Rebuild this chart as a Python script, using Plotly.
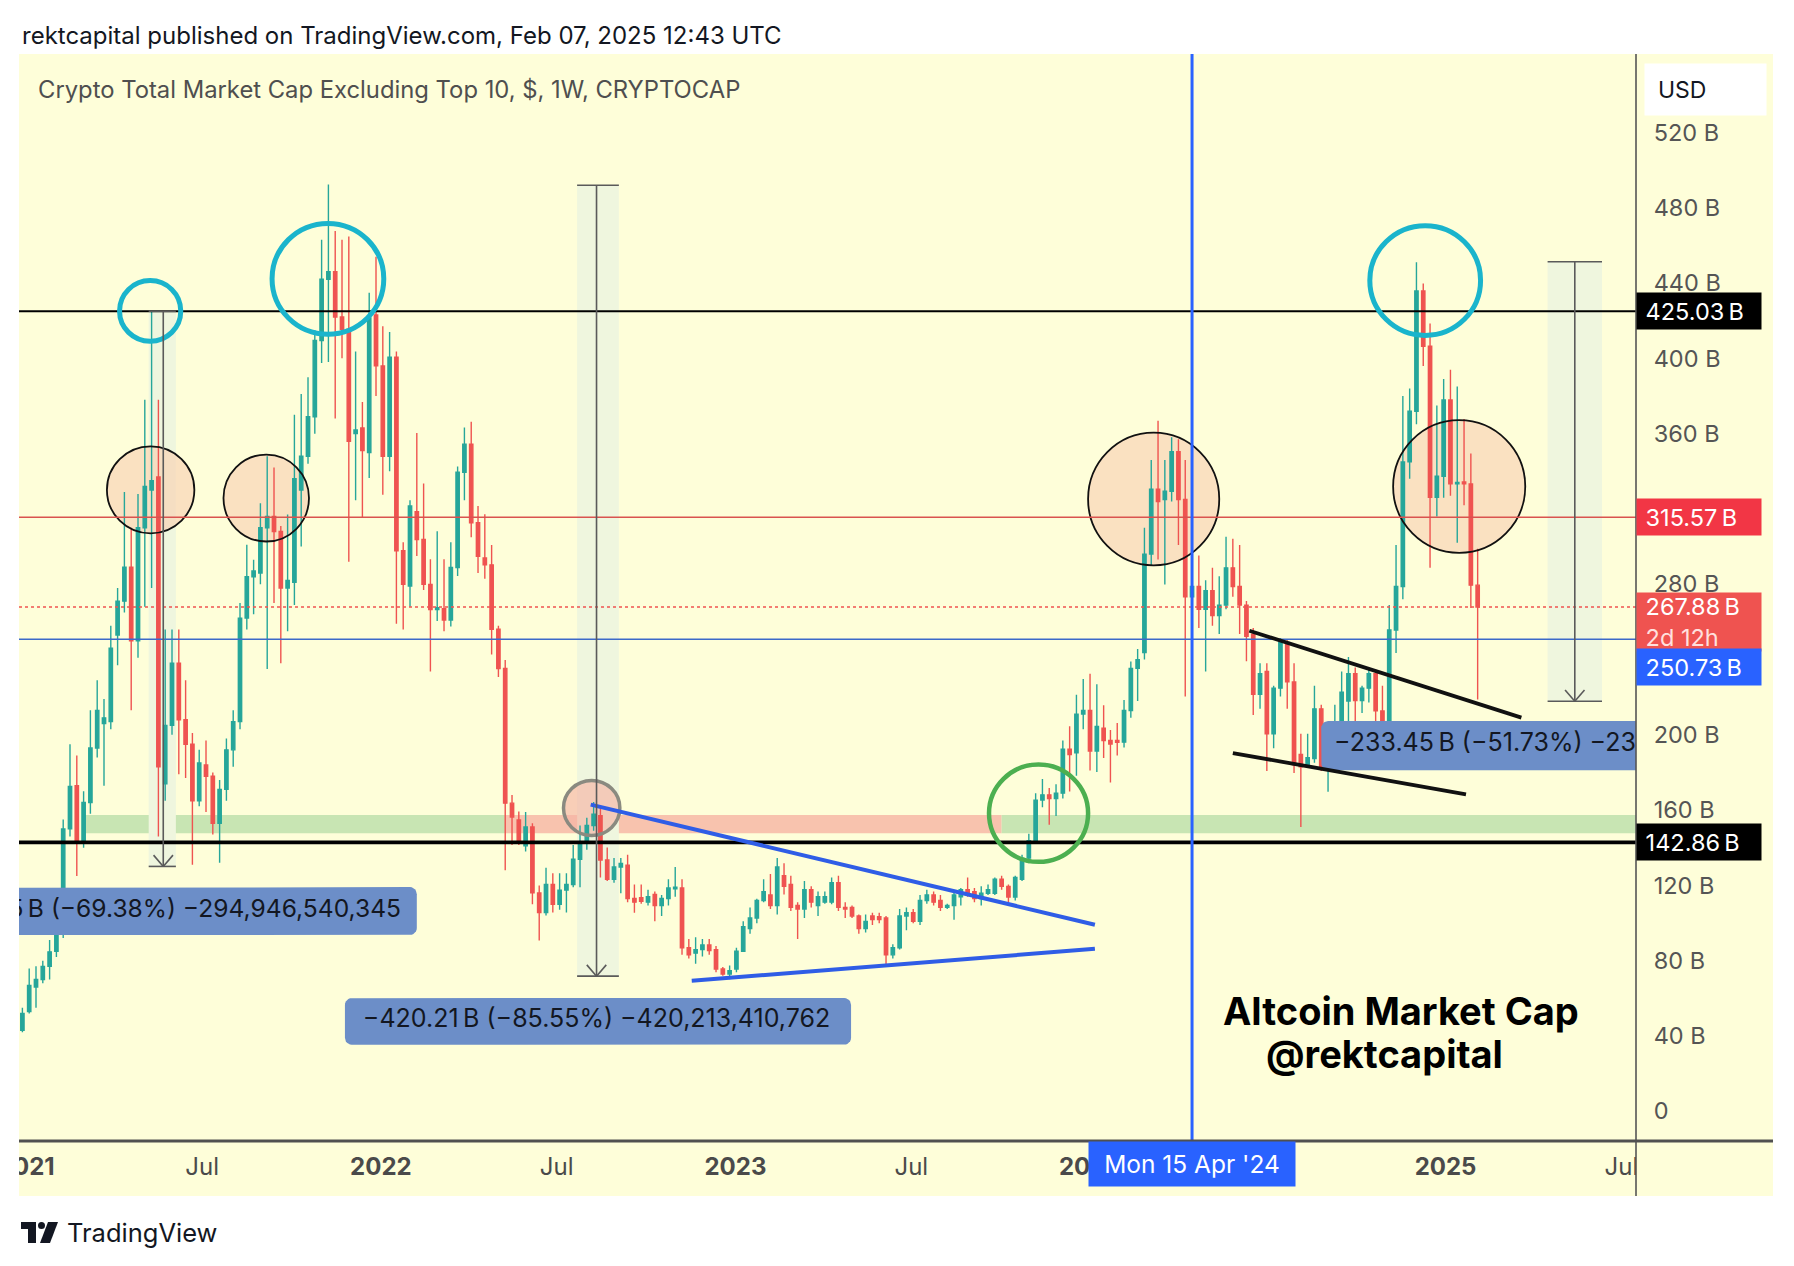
import math
import plotly.graph_objects as go
import pandas as pd

# ---------------- DATA (weekly candles, values in billions USD) ----------------
week_start = pd.date_range("2020-12-28", periods=215, freq="7D")

open_b = [43, 53, 66, 70, 77, 85, 100, 150, 173, 144, 164, 193, 206, 207, 253, 271, 289, 250, 310, 330,
          337, 174, 205, 238, 208, 195, 165, 184, 178, 153, 171, 192, 207, 262, 284, 286, 310, 316, 308, 278,
          281, 330, 348, 369, 409.5, 442, 446, 422, 415.5, 360, 363, 350, 423, 396, 348, 400.6, 297.8, 279, 318.6, 303.8,
          279.9, 266.5, 267, 261, 288.9, 339.5, 354.4, 312.7, 293.9, 290.3, 256.1, 235.2, 163.7, 154.8, 141, 151, 116, 105.6, 120.5, 110,
          117.5, 120.5, 133.9, 142.8, 151.8, 157, 133.5, 123.3, 129.8, 130.7, 113, 113.4, 111.1, 115.2, 109.3, 113, 118.2, 118.6, 86.9, 84,
          85.9, 88.3, 85.9, 75.6, 72.9, 75.6, 85, 97.1, 102.7, 112, 114.9, 109.3, 125.1, 120.5, 109.3, 107.4, 117.7, 109.3, 111.1, 111.1,
          121.4, 108.3, 108.3, 103.7, 97.1, 103.7, 103.3, 102.7, 83.1, 86.9, 103.7, 105.5, 100.9, 112, 114.9, 112, 108.3, 109.3, 114, 117.7,
          116.7, 113, 115.8, 115.8, 123.3, 119.5, 113.8, 123.3, 134.5, 143.8, 165.3, 168.1, 166.2, 169, 192.4, 190.5, 211, 212.9, 191.4, 203.5,
          197, 197, 196.1, 212.9, 235.3, 243.7, 296, 330.5, 325, 329.4, 350.4, 325, 273.3, 278.8, 266.7, 276.6, 263.4, 268.9, 288.7, 278.8,
          268.9, 253.5, 221.5, 233.6, 200.6, 224.8, 249.1, 228.1, 189.6, 184.1, 187.4, 213.8, 181.9, 191.8, 203.9, 218, 232.5, 218.2, 224.8, 232.5,
          212.7, 201.7, 255.7, 278.8, 345, 371.9, 435.8, 406.4, 326.2, 337.4, 377.9, 333.3, 334.3, 333.3, 279.5]

high_b = [55, 75.8, 77, 80, 91, 117.5, 155, 195, 189, 170, 213, 229, 219, 258, 278, 329, 310, 328, 378, 425,
          378, 256, 256, 256, 229, 201, 192, 197, 180, 176, 198, 213, 270, 301, 293, 323, 348, 342, 311, 317,
          370, 381, 390, 415, 463, 492.4, 467.6, 463, 464.7, 403.6, 376.8, 434.9, 454, 417, 414, 403.6, 302.3, 324.6, 360.4, 333.5,
          293.3, 308.2, 293.3, 302.3, 342.5, 363.3, 366.3, 321.6, 317.2, 300.8, 258, 239.7, 168, 159.2, 159, 153, 120, 129.4, 126.5, 126.5,
          126.5, 141.4, 151.8, 156, 164.3, 161.5, 140.1, 134.5, 134.5, 136.3, 120.5, 120.5, 117.7, 116.7, 114.9, 123.3, 129.8, 123.3, 91.5, 92.5,
          91.5, 91.5, 87.8, 76.6, 77.5, 86.9, 100.9, 108.3, 112.9, 123.3, 126.1, 134.5, 131.7, 125.1, 111.1, 122.3, 119.5, 116.7, 116.7, 124.2,
          125.1, 111.1, 109.3, 104.6, 104.6, 105.5, 105.5, 103.7, 88.7, 107.4, 108.3, 107.4, 114.9, 117.7, 116.7, 114.9, 110.2, 116.7, 118.6, 124.2,
          118.6, 119.5, 120.5, 124.2, 125.1, 120.5, 125.1, 136.3, 147.5, 169, 176.5, 171.8, 173.7, 197, 204.5, 221.3, 229.7, 232.5, 226.9, 215.7,
          202.6, 206.3, 218.5, 239, 245.6, 310, 346, 366.9, 346, 358.1, 357, 346, 289.8, 295.3, 282.1, 288.7, 284.3, 305.2, 304.1, 300.8,
          271.1, 256.8, 238, 238, 226, 251.3, 250.2, 238, 200.6, 200.6, 226, 216, 193.9, 216, 233.6, 241.3, 235.8, 226, 235.8, 234.7,
          226, 268.9, 300.8, 380, 384, 451, 439.8, 418.5, 374.9, 389, 394, 385, 367.8, 349.5, 298.8]

low_b = [42, 52, 55, 68, 70, 82, 92, 146, 125, 140, 158, 188, 173, 203, 237, 265, 213, 241, 268, 278,
         146, 165, 200, 179, 177, 131, 162, 159, 147, 132, 165, 183, 203, 256, 264, 280, 235, 270, 238, 255,
         269, 300, 344, 360, 397.6, 398, 368, 400, 292, 324.6, 315.7, 336.5, 380, 327.6, 340, 259, 256, 268, 295, 276.9,
         233.7, 260.5, 255, 257.6, 284.4, 324.6, 305, 285.9, 282.9, 242.7, 230.7, 128, 141.4, 141.4, 138, 110, 90.7, 104, 105.6, 107,
         105.6, 119, 119, 139, 149, 124.2, 122.3, 121.4, 115.8, 111.1, 105.5, 110.2, 109.3, 100.9, 103.7, 109.3, 114, 83.1, 81.2, 78.4,
         82.2, 83.1, 73.8, 72, 70.1, 73.8, 85, 94.3, 99.9, 111.1, 107.4, 104.6, 115.2, 106.4, 91.5, 102.7, 108.3, 103.7, 110.2, 110,
         106.4, 102.7, 102.7, 94.3, 95, 99, 99.9, 76.6, 81.2, 86, 96.2, 99.9, 99, 110.2, 109.3, 106.4, 107.4, 101.8, 109.3, 114,
         111.1, 109.3, 114.9, 114.9, 117.7, 111.1, 112, 122.3, 131.7, 143, 161.5, 152.2, 156.9, 166.2, 169.9, 178.3, 203, 181.1, 180.2, 187.7,
         174.6, 189, 193.3, 209.1, 218, 240, 290, 293.1, 279.9, 323.9, 300.8, 220.4, 241.3, 256.8, 233.6, 257.9, 253.5, 266.7, 273.3, 253.5,
         239.1, 210.5, 213.8, 180.8, 192.9, 220.4, 213.8, 179.7, 151, 183, 185.2, 180.8, 169.8, 189.6, 200.6, 203.9, 200.6, 211.6, 217.1, 199.5,
         198.4, 200.6, 243.5, 272, 336, 365, 396, 288.7, 316, 326, 327, 302, 322, 267.4, 218.7]

close_b = [52, 66.9, 70, 77, 84.7, 101, 150, 172.6, 144, 164, 193, 213, 209, 246, 271, 289, 250, 310, 332, 335,
           183, 205, 238, 208, 195, 165, 185, 178, 153, 171, 192, 207, 262, 284, 287, 310, 316, 308, 278, 282,
           336, 348, 369, 409.5, 442, 446, 422, 415.5, 356, 362, 351, 421.5, 396, 348, 400.6, 297.8, 279.9, 321.6, 303.8, 279.9,
           266.5, 267.5, 261, 288.9, 339.5, 354.4, 312.7, 294.8, 290.3, 256.1, 235.2, 163.7, 156.3, 142.8, 151, 116, 105.6, 120.5, 110, 117.5,
           120.5, 133.9, 142.8, 151.8, 157.8, 133.5, 123.3, 129.8, 131.7, 113, 111.1, 111.5, 114, 109.3, 113, 118.6, 119, 86.9, 83.1, 85.9,
           88.3, 85.4, 75.6, 72.9, 74.7, 85, 98.1, 102.7, 112, 116.7, 109.3, 129.8, 119.5, 108.3, 107.4, 117.7, 111.1, 114, 114, 121.4,
           108.3, 107.4, 103.7, 97.1, 100.9, 101.8, 101.8, 83.1, 86.9, 103.7, 105.5, 100.9, 112, 114.9, 111.1, 108.3, 109.3, 114.9, 117.7, 114.9,
           113, 115.8, 117.7, 123.3, 119.5, 113.8, 124.2, 134.5, 143.8, 165.3, 168.1, 166.2, 169, 192.4, 189.5, 211, 212.9, 191.4, 204.5, 197,
           195.1, 196, 212.9, 235.3, 239.9, 296, 330.5, 323.9, 329.4, 350.4, 325, 273.3, 278.8, 266.7, 276.6, 263.4, 268.9, 288.7, 278.8, 268.9,
           252.4, 221.5, 232.5, 200.6, 224.8, 249.1, 228.1, 184.1, 183, 187.8, 213.8, 181.9, 191.8, 203.9, 222.6, 232.5, 218.2, 224.8, 232.5, 212.7,
           201.7, 255.7, 278.8, 345, 371.9, 435.8, 406.4, 326.2, 337.4, 377.9, 333.3, 334.1, 333.3, 279.5, 267.88]

# horizontal price levels (B)
level_top = 425.03
level_mid = 315.57
level_last = 267.88
level_blue = 250.73
level_support = 142.86

# y-axis ticks
ytick_vals = [0, 40, 80, 120, 160, 200, 280, 360, 400, 440, 480, 520]
ytick_text = ["0", "40 B", "80 B", "120 B", "160 B", "200 B", "280 B", "360 B", "400 B", "440 B", "480 B", "520 B"]

# x-axis ticks
xtick_dates = ["2021-01-01", "2021-07-01", "2022-01-01", "2022-07-01", "2023-01-01",
               "2023-07-01", "2024-01-01", "2025-01-01", "2025-07-01"]
xtick_text = ["<b>2021</b>", "Jul", "<b>2022</b>", "Jul", "<b>2023</b>", "Jul", "<b>2024</b>", "<b>2025</b>", "Jul"]

# price-range measurements
meas_dates = ["2021-05-22", "2022-08-11", "2025-05-14"]
meas_top = [425.03, 491.98, 451.30]
meas_drop = [294.95, 420.21, 233.45]
meas_pct = [69.38, 85.55, 51.73]
meas_text = ["\u2212294.95\u2009B (\u221269.38%) \u2212294,946,540,345",
             "\u2212420.21\u2009B (\u221285.55%) \u2212420,213,410,762",
             "\u2212233.45\u2009B (\u221251.73%) \u221223"]

# ---------------- GEOMETRY (page pixels) ----------------
W, H = 1794, 1266
OFF = 8                               # page body margin
L, R, T, B = 19, 1773, 54, 1196       # yellow panel
AX_X, AX_Y = 1636, 1141               # price scale line, time scale line


def fx(px):
    return (px - L) / (R - L)


def fy(py):
    return (B - py) / (B - T)


XR = ["2020-12-24 12:00", "2025-07-16"]
YR = [-15.8, 561.7]

BG = "#fefed9"
GREEN = "#26a69a"
RED = "#ef5350"
FONT = "Inter"


def rounded_box(xa, xb, ya, yb, rdays=7.0, rval=3.8, n=7):
    xa, xb = pd.Timestamp(xa), pd.Timestamp(xb)
    corners = [(xb - pd.Timedelta(days=rdays), yb - rval, 0, 90),
               (xa + pd.Timedelta(days=rdays), yb - rval, 90, 180),
               (xa + pd.Timedelta(days=rdays), ya + rval, 180, 270),
               (xb - pd.Timedelta(days=rdays), ya + rval, 270, 360)]
    px, py = [], []
    for cx, cy, a0, a1 in corners:
        for j in range(n):
            a = math.radians(a0 + (a1 - a0) * j / (n - 1))
            px.append(cx + pd.Timedelta(days=rdays * math.cos(a)))
            py.append(cy + rval * math.sin(a))
    px.append(px[0])
    py.append(py[0])
    return px, py


fig = go.Figure()

fig.add_trace(go.Candlestick(
    x=week_start, open=open_b, high=high_b, low=low_b, close=close_b,
    increasing=dict(line=dict(color=GREEN, width=1.4), fillcolor=GREEN),
    decreasing=dict(line=dict(color=RED, width=1.4), fillcolor=RED),
    whiskerwidth=0, hoverinfo="skip", showlegend=False, xaxis="x", yaxis="y"))

# measurement label boxes (rounded scatter fill, clipped to plot) + text
label_boxes = [
    (["2020-08-31", "2022-02-07"], [93.6, 119.1], 106.4),
    (["2021-11-25", "2023-04-30"], [35.3, 60.2], 48.0),
    (["2024-08-26", "2026-01-29"], [181.2, 207.3], 194.5),
]
for k, ((xa, xb), (ya, yb), yc) in enumerate(label_boxes):
    bx, by = rounded_box(xa, xb, ya, yb)
    fig.add_trace(go.Scatter(
        x=bx, y=by, mode="lines", fill="toself",
        fillcolor="#6c8ec8", line=dict(width=0, color="#6c8ec8"), hoverinfo="skip",
        showlegend=False, xaxis="x", yaxis="y"))
    if k < 2:
        tx, tpos = meas_dates[k], "middle center"
    else:
        tx, tpos = XR[1], "middle left"
    fig.add_trace(go.Scatter(
        x=[tx], y=[yc], mode="text", text=[meas_text[k]],
        textfont=dict(family=FONT, size=25 if k else 24.6, color="#131722"), textposition=tpos,
        hoverinfo="skip", showlegend=False, xaxis="x", yaxis="y"))

# time-scale labels (clipped strip)
fig.add_trace(go.Scatter(
    x=xtick_dates, y=[0.5] * len(xtick_dates), mode="text", text=xtick_text,
    textfont=dict(family=FONT, size=24, color="#4a4a4a"), textposition="middle center",
    hoverinfo="skip", showlegend=False, xaxis="x", yaxis="y2"))

shapes = []
shapes.append(dict(type="rect", xref="paper", yref="paper", x0=0, x1=1, y0=0, y1=1,
                   fillcolor=BG, line=dict(width=0), layer="below"))

# zones
zone_y = [147.7, 157.4]
shapes.append(dict(type="rect", xref="x", yref="y", x0="2021-03-03", x1="2022-05-09",
                   y0=zone_y[0], y1=zone_y[1], fillcolor="#c8e5b3", line=dict(width=0), layer="below"))
shapes.append(dict(type="rect", xref="x", yref="y", x0="2022-05-09", x1="2023-10-02",
                   y0=zone_y[0], y1=zone_y[1], fillcolor="#f8c3ae", line=dict(width=0), layer="below"))
shapes.append(dict(type="rect", xref="x", yref="y", x0="2023-10-02", x1="2025-09-01",
                   y0=zone_y[0], y1=zone_y[1], fillcolor="#c8e5b3", line=dict(width=0), layer="below"))

# measurement bands
bands = [("2021-05-07", "2021-06-04"), ("2022-07-22", "2022-09-03"), ("2025-04-16", "2025-06-11")]
for k, (xa, xb) in enumerate(bands):
    top = meas_top[k]
    bot = meas_top[k] - meas_drop[k]
    shapes.append(dict(type="rect", xref="x", yref="y", x0=xa, x1=xb, y0=bot, y1=top,
                       fillcolor="#eff6de", line=dict(width=0), layer="below"))

# peach circles (fill below, outline above)
peach = [("2021-03-25", "2021-06-23", 307.0, 353.2), ("2021-07-23", "2021-10-19", 302.7, 348.9),
         ("2023-12-30", "2024-05-13", 290.0, 360.5), ("2024-11-08", "2025-03-24", 296.7, 367.2)]
for (xa, xb, ya, yb) in peach:
    shapes.append(dict(type="circle", xref="x", yref="y", x0=xa, x1=xb, y0=ya, y1=yb,
                       fillcolor="rgba(248,212,182,0.7)", line=dict(width=0), layer="below"))
    shapes.append(dict(type="circle", xref="x", yref="y", x0=xa, x1=xb, y0=ya, y1=yb,
                       line=dict(color="#111111", width=1.8), layer="above"))
shapes.append(dict(type="circle", xref="x", yref="y", x0="2022-07-08", x1="2022-09-04", y0=146.5, y1=175.7,
                   fillcolor="rgba(245,180,165,0.65)", line=dict(width=0), layer="below"))
shapes.append(dict(type="circle", xref="x", yref="y", x0="2022-07-08", x1="2022-09-04", y0=146.5, y1=175.7,
                   line=dict(color="#8a8a80", width=3.5), layer="above"))


def hline(v, color, width, dash="solid"):
    return dict(type="line", xref="x domain", yref="y", x0=0, x1=1, y0=v, y1=v,
                line=dict(color=color, width=width, dash=dash), layer="above")


shapes += [hline(level_top, "#000000", 1.8), hline(level_mid, "#d9534f", 1.6),
           hline(level_last, "#ef5350", 1.6, "dot"), hline(level_blue, "#3c69c9", 1.6),
           hline(level_support, "#000000", 3.6)]


def seg(xa, ya, xb, yb, color, width):
    return dict(type="line", xref="x", yref="y", x0=xa, y0=ya, x1=xb, y1=yb,
                line=dict(color=color, width=width), layer="above")


shapes += [seg("2022-08-05", 162.9, "2024-01-06", 99.1, "#2f5de6", 4),
           seg("2022-11-17", 69.3, "2024-01-06", 86.3, "#2f5de6", 4),
           seg("2024-06-13", 255.3, "2025-03-20", 209.1, "#111111", 3.8),
           seg("2024-05-27", 190.3, "2025-01-22", 168.4, "#111111", 3.8)]

for (xa, xb, ya, yb) in [("2021-04-07", "2021-06-09", 409.1, 441.3), ("2021-09-11", "2022-01-04", 412.8, 471.7),
                         ("2024-10-15", "2025-02-06", 412.2, 470.5)]:
    shapes.append(dict(type="circle", xref="x", yref="y", x0=xa, x1=xb, y0=ya, y1=yb,
                       line=dict(color="#1ab4cc", width=5), layer="above"))
shapes.append(dict(type="circle", xref="x", yref="y", x0="2023-09-19", x1="2023-12-30", y0=132.5, y1=184.2,
                   line=dict(color="#4caf50", width=4.5), layer="above"))

# measurement arrows
GRAY = "#5a5a5a"
for k, d in enumerate(meas_dates):
    top = meas_top[k]
    bot = meas_top[k] - meas_drop[k]
    xa, xb = bands[k]
    dd = pd.Timestamp(d)
    shapes.append(seg(d, top, d, bot, GRAY, 1.6))
    shapes.append(seg(xa, bot, xb, bot, GRAY, 1.6))
    shapes.append(seg(xa, top, xb, top, GRAY, 1.6))
    shapes.append(seg(str(dd - pd.Timedelta(days=10)), bot + 6, d, bot, GRAY, 1.6))
    shapes.append(seg(str(dd + pd.Timedelta(days=10)), bot + 6, d, bot, GRAY, 1.6))

shapes.append(dict(type="line", xref="x", yref="paper", x0="2024-04-15", x1="2024-04-15",
                   y0=fy(AX_Y), y1=1, line=dict(color="#2962ff", width=3), layer="above"))
shapes.append(dict(type="line", xref="paper", yref="paper", x0=fx(AX_X), x1=fx(AX_X), y0=0, y1=1,
                   line=dict(color="#555555", width=1.6), layer="above"))
shapes.append(dict(type="line", xref="paper", yref="paper", x0=0, x1=1, y0=fy(AX_Y), y1=fy(AX_Y),
                   line=dict(color="#505050", width=3), layer="above"))

# TradingView logo
shapes.append(dict(type="rect", xref="paper", yref="paper", x0=fx(21), x1=fx(36), y0=fy(1229), y1=fy(1222),
                   fillcolor="#131722", line=dict(width=0)))
shapes.append(dict(type="rect", xref="paper", yref="paper", x0=fx(28), x1=fx(36), y0=fy(1243), y1=fy(1222),
                   fillcolor="#131722", line=dict(width=0)))
shapes.append(dict(type="circle", xref="paper", yref="paper", x0=fx(38), x1=fx(45), y0=fy(1229), y1=fy(1222),
                   fillcolor="#131722", line=dict(width=0)))
shapes.append(dict(type="path", xref="paper", yref="paper",
                   path="M %f,%f L %f,%f L %f,%f L %f,%f Z" % (fx(48), fy(1222), fx(58), fy(1222),
                                                               fx(50), fy(1243), fx(40), fy(1243)),
                   fillcolor="#131722", line=dict(width=0)))

ann = []
ann.append(dict(xref="paper", yref="paper", x=fx(20), y=fy(35), xanchor="left", yanchor="middle",
                text="rektcapital published on TradingView.com, Feb 07, 2025 12:43 UTC", showarrow=False,
                font=dict(family=FONT, size=24, color="#131722")))
ann.append(dict(xref="paper", yref="paper", x=fx(36), y=fy(89), xanchor="left", yanchor="middle",
                text="Crypto Total Market Cap Excluding Top 10, $, 1W, CRYPTOCAP", showarrow=False,
                font=dict(family=FONT, size=23.8, color="#4f4f4f")))
ann.append(dict(xref="paper", yref="paper", x=fx(65), y=fy(1232), xanchor="left", yanchor="middle",
                text="TradingView", showarrow=False, font=dict(family=FONT, size=25.5, color="#131722")))
ann.append(dict(xref="paper", yref="paper", x=fx(1401), y=fy(1011), xanchor="center", yanchor="middle",
                text="<b>Altcoin Market Cap</b>", showarrow=False, font=dict(family=FONT, size=38, color="#000000")))
ann.append(dict(xref="paper", yref="paper", x=fx(1384), y=fy(1054), xanchor="center", yanchor="middle",
                text="<b>@rektcapital</b>", showarrow=False, font=dict(family=FONT, size=38, color="#000000")))

ann.append(dict(xref="paper", yref="paper", x=fx(1644), y=fy(63), xanchor="left", yanchor="top",
                text="\u00a0\u00a0USD", showarrow=False, align="left", width=121, height=51,
                bgcolor="#ffffff", borderpad=0, font=dict(family=FONT, size=23, color="#131722")))


def plabel(v, text, bg, h=32, yanchor="middle"):
    return dict(xref="paper", yref="y", x=fx(AX_X), y=v, xanchor="left", yanchor=yanchor,
                text=text, showarrow=False, align="left", width=120, height=h, bgcolor=bg,
                borderpad=2, font=dict(family=FONT, size=23.5, color="#ffffff"))


ann.append(plabel(level_top, "\u00a0425.03\u2009B", "#000000"))
ann.append(plabel(level_mid, "\u00a0315.57\u2009B", "#f23645"))
ann.append(plabel(276.0, "\u00a0267.88\u2009B<br>\u00a0<span style='color:#ffe0de'>2d 12h</span>", "#ef5350",
                  h=54, yanchor="top"))
ann.append(plabel(235.9, "\u00a0250.73\u2009B", "#2962ff"))
ann.append(plabel(level_support, "\u00a0142.86\u2009B", "#000000"))

ann.append(dict(xref="x", yref="paper", x="2024-04-15", y=fy(1163.5), xanchor="center", yanchor="middle",
                text="Mon 15 Apr '24", showarrow=False, width=206, height=44, bgcolor="#2962ff",
                borderpad=0, font=dict(family=FONT, size=24.5, color="#ffffff")))

dom_x = [0, fx(AX_X)]
dom_y = [fy(AX_Y), 1]

fig.update_layout(
    width=W - OFF, height=H - OFF, autosize=False,
    margin=dict(l=L - OFF, r=W - R, t=T - OFF, b=H - B, pad=0),
    paper_bgcolor="#ffffff", plot_bgcolor=BG,
    showlegend=False, hovermode=False,
    font=dict(family=FONT),
    xaxis=dict(domain=dom_x, range=XR, type="date", showgrid=False, zeroline=False,
               showticklabels=False, showline=False, ticks="", rangeslider=dict(visible=False), fixedrange=True),
    yaxis=dict(domain=dom_y, range=YR, side="right", anchor="x", showgrid=False, zeroline=False,
               tickvals=ytick_vals, ticktext=ytick_text, ticks="outside", ticklen=12,
               tickcolor="rgba(0,0,0,0)", tickfont=dict(family=FONT, size=23.5, color="#555555"),
               showline=False, fixedrange=True),
    yaxis2=dict(domain=[0, fy(AX_Y)], range=[0, 1], anchor="x", visible=False, fixedrange=True),
    shapes=shapes, annotations=ann,
)

fig.write_html("out.html", config=dict(displayModeBar=False))
